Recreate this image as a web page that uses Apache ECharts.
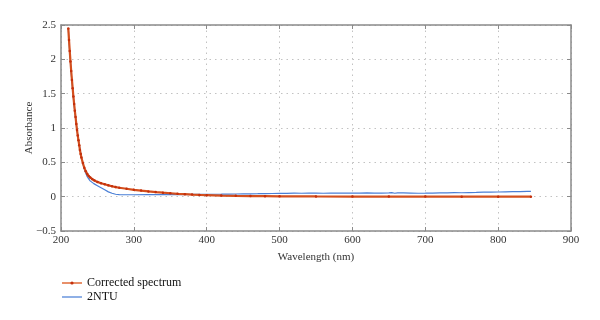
<!DOCTYPE html>
<html><head><meta charset="utf-8">
<script src="https://cdn.jsdelivr.net/npm/echarts@6/dist/echarts.min.js"></script>
<style>html,body{margin:0;padding:0;background:#fff}#c{width:600px;height:320px}</style>
</head><body><div id="c"></div>
<script>
var xTicks = [200, 300, 400, 500, 600, 700, 800, 900];
var yTicks = [-0.5, 0, 0.5, 1, 1.5, 2, 2.5];

var correctedX = [210,211,212,213,214,215,216,217,218,219,220,221,222,223,224,225,226,227,228,230,232,234,236,238,240,243,246,250,255,260,265,270,275,280,290,300,310,320,330,340,350,360,370,380,390,400,420,440,460,480,500,550,600,650,700,750,800,845];
var correctedY = [2.45,2.28,2.12,1.97,1.83,1.70,1.58,1.46,1.35,1.25,1.16,1.06,0.97,0.89,0.82,0.75,0.68,0.62,0.57,0.49,0.42,0.37,0.33,0.30,0.28,0.255,0.235,0.215,0.195,0.18,0.165,0.152,0.14,0.13,0.115,0.10,0.088,0.077,0.067,0.058,0.050,0.042,0.036,0.030,0.025,0.021,0.016,0.012,0.009,0.007,0.005,0.003,0.002,0.001,0.001,0.0,0.0,0.0];

var ntuX = [210,212,214,216,218,220,222,224,226,228,230,232,234,236,238,240,245,250,255,260,265,270,275,280,290,300,320,340,360,380,400,410,420,430,440,450,460,470,480,490,500,510,520,530,540,550,560,570,580,590,600,610,620,630,640,650,654,656,658,662,670,680,690,700,710,720,730,740,750,760,770,780,790,800,810,820,830,840,845];
var ntuY = [2.45,2.10,1.80,1.55,1.33,1.14,0.97,0.82,0.70,0.58,0.48,0.40,0.34,0.29,0.26,0.23,0.19,0.16,0.13,0.10,0.07,0.05,0.035,0.03,0.028,0.028,0.03,0.03,0.031,0.032,0.033,0.035,0.036,0.038,0.039,0.041,0.042,0.043,0.045,0.046,0.048,0.049,0.051,0.05,0.052,0.051,0.05,0.052,0.053,0.051,0.052,0.053,0.054,0.052,0.053,0.055,0.058,0.03,0.05,0.055,0.054,0.052,0.05,0.051,0.053,0.055,0.056,0.058,0.057,0.06,0.062,0.066,0.067,0.068,0.07,0.072,0.074,0.076,0.077];

function pairs(xs, ys){ return xs.map(function(x,i){ return [x, ys[i]]; }); }

var font = '"Liberation Serif", "DejaVu Serif", serif';
var axisCol = '#8a8a8a';
var chart = echarts.init(document.getElementById('c'), null, {renderer:'canvas'});
chart.setOption({
  animation: false,
  textStyle: {fontFamily: font},
  grid: {left: 61, right: 29, top: 25, bottom: 89},
  legend: {
    orient: 'vertical', left: 56, top: 272, itemWidth: 20, itemHeight: 4, itemGap: 2,
    textStyle: {fontFamily: font, fontSize: 12, color: '#111'},
    data: [
      {name: 'Corrected spectrum', lineStyle: {color: '#e8906a', width: 2}, itemStyle: {color: '#c4300c'}},
      {name: '2NTU', lineStyle: {color: '#8fb0e6', width: 2}, itemStyle: {opacity: 0}}
    ]
  },
  xAxis: [{
    type: 'value', min: xTicks[0], max: xTicks[xTicks.length-1], interval: 100,
    name: 'Wavelength (nm)', nameLocation: 'middle', nameGap: 21,
    nameTextStyle: {fontFamily: font, fontSize: 11, color: '#333'},
    axisLine: {show: true, onZero: false, lineStyle: {color: axisCol, width: 1.5}},
    axisTick: {show: true, inside: true, length: 4, lineStyle: {color: axisCol}},
    axisLabel: {fontFamily: font, fontSize: 11, color: '#333', margin: 4},
    splitLine: {show: true, lineStyle: {color: '#c2c2c2', type: [1.5, 4]}}
  }, {
    type: 'value', position: 'top', min: xTicks[0], max: xTicks[xTicks.length-1], interval: 100,
    axisLine: {show: true, onZero: false, lineStyle: {color: axisCol, width: 1.5}},
    axisTick: {show: true, inside: true, length: 4, lineStyle: {color: axisCol}},
    axisLabel: {show: false}, splitLine: {show: false}
  }],
  yAxis: [{
    type: 'value', min: yTicks[0], max: yTicks[yTicks.length-1], interval: 0.5,
    name: 'Absorbance', nameLocation: 'middle', nameGap: 26, nameRotate: 90, nameMoveOverlap: false,
    nameTextStyle: {fontFamily: font, fontSize: 11, color: '#333'},
    axisLine: {show: true, onZero: false, lineStyle: {color: axisCol, width: 1.5}},
    axisTick: {show: true, inside: true, length: 4, lineStyle: {color: axisCol}},
    axisLabel: {fontFamily: font, fontSize: 11, color: '#333', margin: 5,
      formatter: function(v){ return String(v).replace('-', '\u2212'); }},
    splitLine: {show: true, lineStyle: {color: '#c2c2c2', type: [1.5, 4]}}
  }, {
    type: 'value', position: 'right', min: yTicks[0], max: yTicks[yTicks.length-1], interval: 0.5,
    axisLine: {show: true, onZero: false, lineStyle: {color: axisCol, width: 1.5}},
    axisTick: {show: true, inside: true, length: 4, lineStyle: {color: axisCol}},
    axisLabel: {show: false}, splitLine: {show: false}
  }],
  series: [{
    name: 'Corrected spectrum', type: 'line', data: pairs(correctedX, correctedY),
    showSymbol: true, symbol: 'circle', symbolSize: 2.5,
    itemStyle: {color: '#c4300c'},
    lineStyle: {color: '#d4501e', width: 2.2},
    z: 3
  }, {
    name: '2NTU', type: 'line', data: pairs(ntuX, ntuY),
    showSymbol: false, symbol: 'none',
    itemStyle: {color: '#6b96dc'},
    lineStyle: {color: '#4a7fd6', width: 1.2},
    z: 2
  }]
});
</script></body></html>
